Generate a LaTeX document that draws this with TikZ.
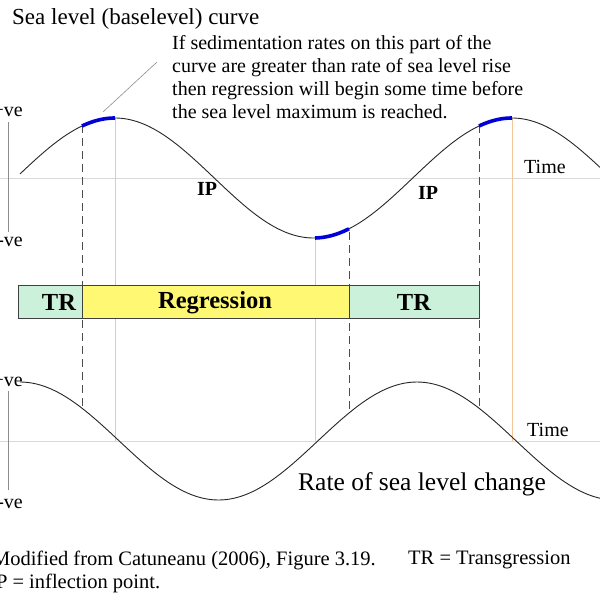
\documentclass[tikz,border=0pt]{standalone}
\usepackage{fontspec}
\setmainfont{Liberation Serif}
\begin{document}
\begin{tikzpicture}[x=1pt,y=-1pt,
  curve/.style={draw=black!85, line width=0.9pt},
  blueseg/.style={draw=blue!85!black, line width=3.6pt},
  midline/.style={draw=black!15, line width=0.8pt},
  axisline/.style={draw=black!45, line width=0.8pt},
  tanline/.style={draw=brown!40!orange!45, line width=1pt},
  dashline/.style={draw=black!70, line width=1pt, dash pattern=on 8pt off 5pt},
  barbox/.style={draw=black!75, line width=0.8pt, minimum height=33pt, inner sep=0pt},
  bartext/.style={inner sep=0pt, font=\bfseries\fontsize{24.5}{28}\selectfont},
  lbl/.style={inner sep=0pt, font=\fontsize{20}{23}\selectfont},
  ip/.style={inner sep=0pt, font=\bfseries\fontsize{20}{23}\selectfont}
]
\useasboundingbox (0,0) rectangle (600,600);
\begin{scope}
\clip (0,0) rectangle (600,600);
% midlines and axes
\draw[midline] (0,178) -- (600,178);
\draw[midline] (0,441) -- (600,441);
\draw[axisline] (8,122) -- (8,232);
\draw[axisline] (8,391) -- (8,490);
\node[lbl, anchor=east] (tpos) at (23,111) {+ve};
\node[lbl, anchor=east] (tneg) at (23,242) {-ve};
\node[lbl, anchor=east] (bpos) at (23,381) {+ve};
\node[lbl, anchor=east] (bneg) at (23,504) {-ve};
% coordinates
\coordinate (d1t) at (82,125);  \coordinate (d1b) at (82,408);
\coordinate (d2t) at (349,232); \coordinate (d2b) at (349,413);
\coordinate (d3t) at (479,125); \coordinate (d3b) at (479,408);
\coordinate (t1t) at (115,118); \coordinate (t1b) at (115,441);
\coordinate (t2t) at (315,238); \coordinate (t2b) at (315,441);
\coordinate (t3t) at (512,118); \coordinate (t3b) at (512,441);
% tan lines
\draw[tanline] (t1t) -- (t1b);
\draw[tanline] (t2t) -- (t2b);
\draw[tanline] (t3t) -- (t3b);
% dashed lines
\draw[dashline] (d1t) -- (d1b);
\draw[dashline] (d2t) -- (d2b);
\draw[dashline] (d3t) -- (d3b);
% bar
\node[barbox, fill=green!45!teal!20, minimum width=64pt] (tr1) at (50,301.5) {};
\node[barbox, fill=yellow!55, minimum width=267pt] (reg) at (215.5,301.5) {};
\node[barbox, fill=green!45!teal!20, minimum width=130pt] (tr2) at (414,301.5) {};
\node[bartext] (tr1t) at (59,302.5) {TR};
\node[bartext] (regt) at (215,302.5) {Regression};
\node[bartext] (tr2t) at (414,302.5) {TR};
% top curve
\draw[curve] plot[domain=20:600, samples=150, smooth] (\x, {178-60*cos((\x-115)/397*360)});
\draw[blueseg] plot[domain=82:115, samples=20, smooth] (\x, {178-60*cos((\x-115)/397*360)});
\draw[blueseg] plot[domain=315:349, samples=20, smooth] (\x, {178-60*cos((\x-115)/397*360)});
\draw[blueseg] plot[domain=479:512, samples=20, smooth] (\x, {178-60*cos((\x-115)/397*360)});
% bottom curve
\draw[curve] plot[domain=20:600, samples=150, smooth] (\x, {441-59*cos((\x-20)/397*360)});
% labels
\node[ip] (ip1) at (207,189) {IP};
\node[ip] (ip2) at (428,193) {IP};
\node[lbl, anchor=west] (time1) at (524,167) {Time};
\node[lbl, anchor=west] (time2) at (527,430) {Time};
\node[inner sep=0pt, anchor=west, font=\fontsize{25.5}{29}\selectfont] (rate) at (298,484) {Rate of sea level change};
\node[inner sep=0pt, anchor=west, font=\fontsize{23}{27}\selectfont] (title) at (12,19) {Sea level (baselevel) curve};
\node[inner sep=0pt, anchor=north west, align=left, font=\fontsize{20}{23}\selectfont] (note) at (172,35)
  {If sedimentation rates on this part of the\\curve are greater than rate of sea level rise\\then regression will begin some time before\\the sea level maximum is reached.};
\coordinate (leadA) at (103,112);
\coordinate (leadB) at (157,62);
\draw[draw=black!45, line width=0.6pt] (leadA) -- (leadB);
% footer
\node[inner sep=0pt, anchor=east, font=\fontsize{20.5}{24}\selectfont] (foot1) at (376,560) {Modified from Catuneanu (2006), Figure 3.19.};
\node[inner sep=0pt, anchor=west, font=\fontsize{20.5}{24}\selectfont] (foot2) at (408,560) {TR = Transgression};
\node[inner sep=0pt, anchor=west, font=\fontsize{20.5}{24}\selectfont] (foot3) at (-11,583) {IP = inflection point.};
\end{scope}
\end{tikzpicture}
\end{document}
